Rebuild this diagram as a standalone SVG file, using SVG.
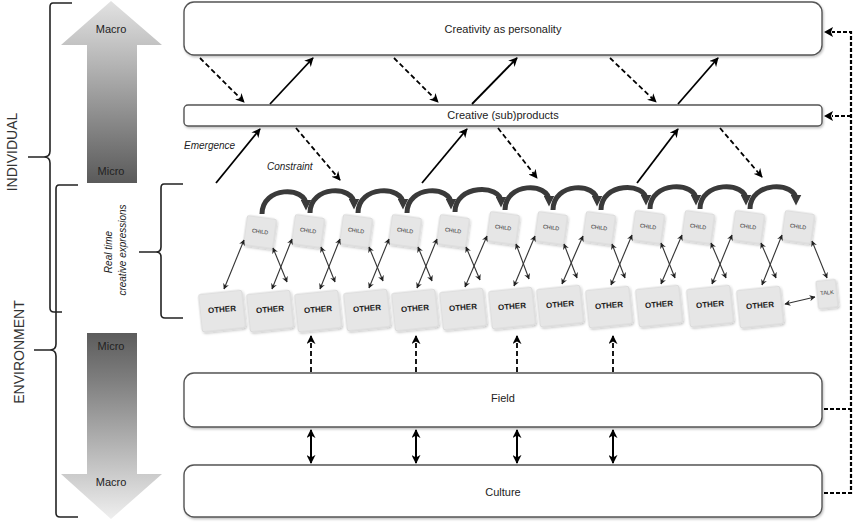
<svg xmlns="http://www.w3.org/2000/svg" width="857" height="522" viewBox="0 0 857 522">
<defs>
<linearGradient id="gUp" x1="0" y1="0" x2="0" y2="1">
<stop offset="0" stop-color="#e2e2e2"/><stop offset="0.35" stop-color="#b4b4b4"/><stop offset="1" stop-color="#5a5a5a"/>
</linearGradient>
<linearGradient id="gDown" x1="0" y1="0" x2="0" y2="1">
<stop offset="0" stop-color="#5c5c5c"/><stop offset="0.25" stop-color="#7e7e7e"/><stop offset="1" stop-color="#efefef"/>
</linearGradient>
<marker id="ah" viewBox="0 0 10 10" refX="9" refY="5" markerWidth="9" markerHeight="9" markerUnits="userSpaceOnUse" orient="auto-start-reverse">
<path d="M0,0 L10,5 L0,10 L3,5 Z" fill="#000"/>
</marker>
<marker id="ahs" viewBox="0 0 10 10" refX="9" refY="5" markerWidth="6" markerHeight="6" markerUnits="userSpaceOnUse" orient="auto-start-reverse">
<path d="M0,0 L10,5 L0,10 L3,5 Z" fill="#222"/>
</marker>
<marker id="arc" viewBox="0 0 10 10" refX="5" refY="5" markerWidth="11" markerHeight="11" markerUnits="userSpaceOnUse" orient="auto">
<path d="M0,0 L10,5 L0,10 Z" fill="#3a3a3a"/>
</marker>
<filter id="sh" x="-20%" y="-20%" width="140%" height="140%">
<feDropShadow dx="1" dy="1.5" stdDeviation="1" flood-color="#000" flood-opacity="0.25"/>
</filter>
</defs>
<style>
text{font-family:"Liberation Sans",Arial,sans-serif;fill:#222}
.box{fill:#fff;stroke:#555;stroke-width:1.4;filter:url(#sh)}
.lbl{font-size:11px;text-anchor:middle;dominant-baseline:middle}
.brace{fill:none;stroke:#222;stroke-width:1.6}
.solid{fill:none;stroke:#000;stroke-width:1.8;marker-end:url(#ah)}
.dash{fill:none;stroke:#000;stroke-width:1.8;stroke-dasharray:5,3;marker-end:url(#ah)}
.dbl{fill:none;stroke:#000;stroke-width:2;marker-start:url(#ah);marker-end:url(#ah)}
.thin{fill:none;stroke:#333;stroke-width:1.1;marker-start:url(#ahs);marker-end:url(#ahs)}
.arcp{fill:none;stroke:#3a3a3a;stroke-width:5;marker-end:url(#arc)}
.card{fill:#e6e6e6;stroke:#d0d0d0;stroke-width:0.6;filter:url(#sh)}
.ct{font-size:5.5px;text-anchor:middle;dominant-baseline:middle;fill:#333}
.ot{font-size:8px;text-anchor:middle;dominant-baseline:middle;fill:#222;font-weight:bold}
.side{font-size:14px;text-anchor:middle;dominant-baseline:middle;fill:#333}
.it{font-size:10px;font-style:italic;fill:#222}
.rv{fill:none;stroke:#000;stroke-width:2.2;stroke-dasharray:4,2}
</style>

<!-- left side labels and braces -->
<g id="individual">
<path class="brace" d="M72,3 L53,3 Q50,3 50,7 L50,151 Q50,157 44,157 L28,157 M44,157 Q50,157 50,163 L50,308 Q50,312 54,312 L62,312"/>
<text class="side" transform="translate(13,152) rotate(-90)">INDIVIDUAL</text>
</g>
<g id="environment">
<path class="brace" d="M78,185 L59,185 Q56,185 56,189 L56,344 Q56,350 50,350 L34,350 M50,350 Q56,350 56,356 L56,513 Q56,517 60,517 L78,517"/>
<text class="side" transform="translate(20,352) rotate(-90)">ENVIRONMENT</text>
</g>
<g id="arrow-up">
<path d="M111,1 L162,45 L137,45 L137,183 L87,183 L87,45 L61,45 Z" fill="url(#gUp)"/>
<text class="lbl" x="111" y="30">Macro</text>
<text class="lbl" x="111" y="172">Micro</text>
</g>
<g id="arrow-down">
<path d="M87,333 L137,333 L137,474 L162,474 L111,519 L61,474 L87,474 Z" fill="url(#gDown)"/>
<text class="lbl" x="111" y="347">Micro</text>
<text class="lbl" x="111" y="483">Macro</text>
</g>
<g id="realtime">
<path class="brace" d="M183,184 L164,184 Q161,184 161,188 L161,247 Q161,252 156,252 L139,252 M156,252 Q161,252 161,257 L161,314 Q161,318 165,318 L183,318"/>
<text class="it" font-size="10.5" text-anchor="middle" transform="translate(112,252) rotate(-90)">Real time</text>
<text class="it" font-size="10.5" text-anchor="middle" transform="translate(126,250) rotate(-90)">creative expressions</text>
</g>

<!-- main boxes -->
<g id="personality"><rect class="box" x="184" y="2" width="638" height="53" rx="10"/><text class="lbl" x="503" y="30">Creativity as personality</text></g>
<g id="subproducts"><rect class="box" x="184" y="105" width="638" height="21" rx="4"/><text class="lbl" x="503" y="116">Creative (sub)products</text></g>
<g id="field"><rect class="box" x="184" y="373" width="638" height="54" rx="10"/><text class="lbl" x="503" y="399">Field</text></g>
<g id="culture"><rect class="box" x="184" y="465" width="638" height="52" rx="10"/><text class="lbl" x="503" y="493">Culture</text></g>

<!-- cards -->
<g id="others">
<g id="other1"><rect class="card" x="-22" y="-19" width="44" height="38" rx="3" transform="translate(222,311) rotate(-6)"/><text class="ot" transform="translate(222,310) rotate(-5)">OTHER</text></g>
<g id="other2"><rect class="card" x="-22" y="-19" width="44" height="38" rx="3" transform="translate(270,311) rotate(-6)"/><text class="ot" transform="translate(270,310) rotate(-5)">OTHER</text></g>
<g id="other3"><rect class="card" x="-22" y="-19" width="44" height="38" rx="3" transform="translate(318,311) rotate(-6)"/><text class="ot" transform="translate(318,310) rotate(-5)">OTHER</text></g>
<g id="other4"><rect class="card" x="-22" y="-19" width="44" height="38" rx="3" transform="translate(367,310) rotate(-6)"/><text class="ot" transform="translate(367,309) rotate(-5)">OTHER</text></g>
<g id="other5"><rect class="card" x="-22" y="-19" width="44" height="38" rx="3" transform="translate(415,310) rotate(-6)"/><text class="ot" transform="translate(415,309) rotate(-5)">OTHER</text></g>
<g id="other6"><rect class="card" x="-22" y="-19" width="44" height="38" rx="3" transform="translate(463,309) rotate(-6)"/><text class="ot" transform="translate(463,308) rotate(-5)">OTHER</text></g>
<g id="other7"><rect class="card" x="-22" y="-19" width="44" height="38" rx="3" transform="translate(512,308) rotate(-6)"/><text class="ot" transform="translate(512,307) rotate(-5)">OTHER</text></g>
<g id="other8"><rect class="card" x="-22" y="-19" width="44" height="38" rx="3" transform="translate(560,306) rotate(-6)"/><text class="ot" transform="translate(560,305) rotate(-5)">OTHER</text></g>
<g id="other9"><rect class="card" x="-22" y="-19" width="44" height="38" rx="3" transform="translate(609,307) rotate(-6)"/><text class="ot" transform="translate(609,306) rotate(-5)">OTHER</text></g>
<g id="other10"><rect class="card" x="-22" y="-19" width="44" height="38" rx="3" transform="translate(659,306) rotate(-6)"/><text class="ot" transform="translate(659,305) rotate(-5)">OTHER</text></g>
<g id="other11"><rect class="card" x="-22" y="-19" width="44" height="38" rx="3" transform="translate(710,306) rotate(-6)"/><text class="ot" transform="translate(710,305) rotate(-5)">OTHER</text></g>
<g id="other12"><rect class="card" x="-22" y="-19" width="44" height="38" rx="3" transform="translate(760,307) rotate(-6)"/><text class="ot" transform="translate(760,306) rotate(-5)">OTHER</text></g>
<g id="talk"><rect class="card" x="-10" y="-14" width="20" height="28" rx="2" transform="translate(827,294) rotate(-6)"/><text class="ct" font-size="4.5" transform="translate(827,293) rotate(-6)">TALK</text></g>
</g>
<g id="children">
<g id="child1"><rect class="card" x="-15" y="-15" width="30" height="30" rx="3" transform="translate(260,232) rotate(8)"/><text class="ct" transform="translate(260,232) rotate(8)">CHILD</text></g>
<g id="child2"><rect class="card" x="-15" y="-15" width="30" height="30" rx="3" transform="translate(308,231) rotate(8)"/><text class="ct" transform="translate(308,231) rotate(8)">CHILD</text></g>
<g id="child3"><rect class="card" x="-15" y="-15" width="30" height="30" rx="3" transform="translate(356,231) rotate(8)"/><text class="ct" transform="translate(356,231) rotate(8)">CHILD</text></g>
<g id="child4"><rect class="card" x="-15" y="-15" width="30" height="30" rx="3" transform="translate(405,231) rotate(8)"/><text class="ct" transform="translate(405,231) rotate(8)">CHILD</text></g>
<g id="child5"><rect class="card" x="-15" y="-15" width="30" height="30" rx="3" transform="translate(453,231) rotate(8)"/><text class="ct" transform="translate(453,231) rotate(8)">CHILD</text></g>
<g id="child6"><rect class="card" x="-15" y="-15" width="30" height="30" rx="3" transform="translate(503,228) rotate(8)"/><text class="ct" transform="translate(503,228) rotate(8)">CHILD</text></g>
<g id="child7"><rect class="card" x="-15" y="-15" width="30" height="30" rx="3" transform="translate(551,228) rotate(8)"/><text class="ct" transform="translate(551,228) rotate(8)">CHILD</text></g>
<g id="child8"><rect class="card" x="-15" y="-15" width="30" height="30" rx="3" transform="translate(599,228) rotate(8)"/><text class="ct" transform="translate(599,228) rotate(8)">CHILD</text></g>
<g id="child9"><rect class="card" x="-15" y="-15" width="30" height="30" rx="3" transform="translate(648,227) rotate(8)"/><text class="ct" transform="translate(648,227) rotate(8)">CHILD</text></g>
<g id="child10"><rect class="card" x="-15" y="-15" width="30" height="30" rx="3" transform="translate(698,227) rotate(8)"/><text class="ct" transform="translate(698,227) rotate(8)">CHILD</text></g>
<g id="child11"><rect class="card" x="-15" y="-15" width="30" height="30" rx="3" transform="translate(748,227) rotate(8)"/><text class="ct" transform="translate(748,227) rotate(8)">CHILD</text></g>
<g id="child12"><rect class="card" x="-15" y="-15" width="30" height="30" rx="3" transform="translate(798,227) rotate(8)"/><text class="ct" transform="translate(798,227) rotate(8)">CHILD</text></g>
</g>

<!-- connectors -->
<g id="connectors">
<!-- personality <-> subproducts -->
<path class="dash" d="M200,58 L244,102"/>
<path class="solid" d="M270,104 L313,58"/>
<path class="dash" d="M394,58 L438,102"/>
<path class="solid" d="M472,104 L517,58"/>
<path class="dash" d="M610,58 L656,102"/>
<path class="solid" d="M678,104 L718,58"/>
<!-- subproducts <-> real time -->
<path class="solid" d="M216,183 L260,129"/>
<path class="dash" d="M296,128 L340,180"/>
<path class="solid" d="M422,183 L467,129"/>
<path class="dash" d="M498,128 L537,178"/>
<path class="solid" d="M637,183 L678,129"/>
<path class="dash" d="M720,128 L762,177"/>
<text class="it" x="184" y="149">Emergence</text>
<text class="it" x="267" y="170">Constraint</text>
<!-- turn-taking arcs -->
<path class="arcp" d="M262,214 C262,186 306,186 306,205"/>
<path class="arcp" d="M310,213 C310,185 354,185 354,204"/>
<path class="arcp" d="M358,213 C358,185 403,185 403,204"/>
<path class="arcp" d="M407,213 C407,185 451,185 451,204"/>
<path class="arcp" d="M455,212 C455,184 501,184 501,202"/>
<path class="arcp" d="M505,210 C505,182 549,182 549,201"/>
<path class="arcp" d="M553,210 C553,182 597,182 597,201"/>
<path class="arcp" d="M601,210 C601,182 646,182 646,200"/>
<path class="arcp" d="M650,209 C650,181 696,181 696,200"/>
<path class="arcp" d="M700,209 C700,181 746,181 746,200"/>
<path class="arcp" d="M750,209 C750,181 796,181 796,200"/>
<!-- child <-> other -->
<path class="thin" d="M244,240 L224,289"/>
<path class="thin" d="M273,248 L287,282"/>
<path class="thin" d="M292,239 L272,289"/>
<path class="thin" d="M321,247 L335,282"/>
<path class="thin" d="M340,239 L320,289"/>
<path class="thin" d="M369,247 L383,281"/>
<path class="thin" d="M389,239 L369,288"/>
<path class="thin" d="M418,247 L432,281"/>
<path class="thin" d="M437,239 L417,288"/>
<path class="thin" d="M466,247 L480,280"/>
<path class="thin" d="M487,236 L465,287"/>
<path class="thin" d="M516,244 L529,279"/>
<path class="thin" d="M535,236 L514,286"/>
<path class="thin" d="M564,244 L577,278"/>
<path class="thin" d="M583,236 L562,284"/>
<path class="thin" d="M612,244 L625,278"/>
<path class="thin" d="M632,235 L611,285"/>
<path class="thin" d="M661,243 L675,278"/>
<path class="thin" d="M682,235 L661,284"/>
<path class="thin" d="M711,243 L726,278"/>
<path class="thin" d="M732,235 L712,284"/>
<path class="thin" d="M761,243 L776,278"/>
<path class="thin" d="M782,235 L762,285"/>
<path class="thin" d="M812,241 L827,278"/>
<path class="thin" d="M785,304 L815,297"/>
<!-- field -> other -->
<path class="dash" d="M311,372 L311,336"/>
<path class="dash" d="M416,372 L416,336"/>
<path class="dash" d="M517,372 L517,336"/>
<path class="dash" d="M613,372 L613,336"/>
<!-- field <-> culture -->
<path class="dbl" d="M311,430 L311,463"/>
<path class="dbl" d="M416,430 L416,463"/>
<path class="dbl" d="M517,430 L517,463"/>
<path class="dbl" d="M613,430 L613,463"/>
<!-- right feedback -->
<path class="rv" d="M824,409 L851,409"/>
<path class="rv" d="M824,493 L851,493 L851,32 L832,32"/>
<path class="rv" d="M851,116 L832,116"/>
<path d="M824,32 L833,27 L831,32 L833,37 Z" fill="#000"/>
<path d="M824,116 L833,111 L831,116 L833,121 Z" fill="#000"/>
</g>
</svg>
